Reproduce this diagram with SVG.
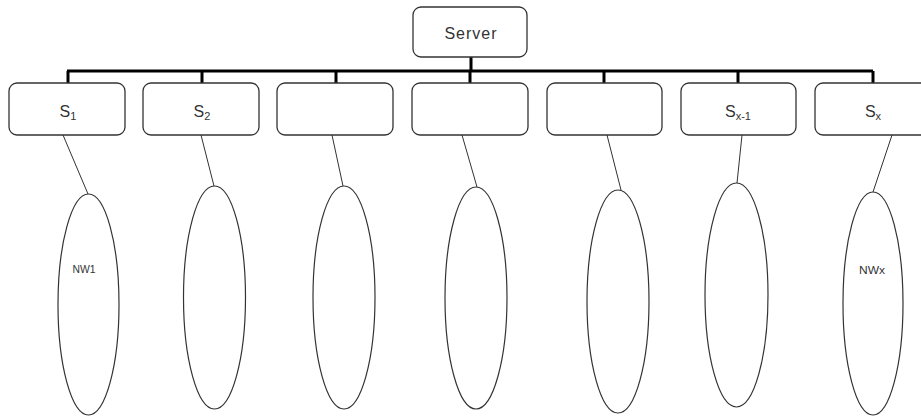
<svg xmlns="http://www.w3.org/2000/svg" width="921" height="416" viewBox="0 0 921 416">
<style>
.box{fill:#fff;stroke:#333;stroke-width:1.3}
.ell{fill:#fff;stroke:#333;stroke-width:1.2}
.bus{fill:none;stroke:#000;stroke-width:3}
.link{fill:none;stroke:#333;stroke-width:1}
.t{font-family:"Liberation Sans",Arial,sans-serif;font-size:16px;fill:#333;text-anchor:middle}
.sub{font-size:11px}
.nw{font-family:"Liberation Sans",Arial,sans-serif;font-size:10px;fill:#333;text-anchor:middle}
</style>
<rect width="921" height="416" fill="#fff"/>
<g id="connectors">
<path class="bus" d="M471 57V71M67 71H873M68 71V83M202 71V83M336 71V83M470 71V83M604 71V83M738 71V83M873 71V83"/>
<path class="link" d="M63 135L88 194M201 135L214 186M332 135L343 186M462 135L477 187M607 135L621 190M742 135L737 183M892 135L873 192"/>
</g>
<g id="server">
<rect class="box" x="413" y="7" width="114" height="50" rx="8"/>
<text class="t" x="471" y="39" letter-spacing="1">Server</text>
</g>
<g id="s1">
<rect class="box" x="9" y="83" width="116" height="52" rx="8"/>
<text class="t" x="68" y="117">S<tspan class="sub" dy="3">1</tspan></text>
</g>
<g id="s2">
<rect class="box" x="143" y="83" width="116" height="52" rx="8"/>
<text class="t" x="202" y="117">S<tspan class="sub" dy="3">2</tspan></text>
</g>
<g id="s3"><rect class="box" x="277" y="83" width="116" height="52" rx="8"/></g>
<g id="s4"><rect class="box" x="412" y="83" width="116" height="52" rx="8"/></g>
<g id="s5"><rect class="box" x="547" y="83" width="115" height="52" rx="8"/></g>
<g id="sx1">
<rect class="box" x="681" y="83" width="115" height="52" rx="8"/>
<text class="t" x="738" y="117">S<tspan class="sub" dy="3">x-1</tspan></text>
</g>
<g id="sx">
<rect class="box" x="815" y="83" width="116" height="52" rx="8"/>
<text class="t" x="873" y="117">S<tspan class="sub" dy="3">x</tspan></text>
</g>
<g id="nw1">
<ellipse class="ell" cx="88.5" cy="304.5" rx="30.5" ry="110.5"/>
<text class="nw" x="84" y="273" textLength="23" lengthAdjust="spacingAndGlyphs">NW1</text>
</g>
<g id="nw2"><ellipse class="ell" cx="214.5" cy="297.5" rx="31" ry="111.5"/></g>
<g id="nw3"><ellipse class="ell" cx="344" cy="297.5" rx="31" ry="111.5"/></g>
<g id="nw4"><ellipse class="ell" cx="476" cy="298" rx="31" ry="111"/></g>
<g id="nw5"><ellipse class="ell" cx="618" cy="301.5" rx="31" ry="111.5"/></g>
<g id="nw6"><ellipse class="ell" cx="736.5" cy="295" rx="31.5" ry="112"/></g>
<g id="nwx">
<ellipse class="ell" cx="873" cy="303.5" rx="30" ry="111.5"/>
<text class="nw" x="872" y="274" textLength="26" lengthAdjust="spacingAndGlyphs">NWx</text>
</g>
</svg>
